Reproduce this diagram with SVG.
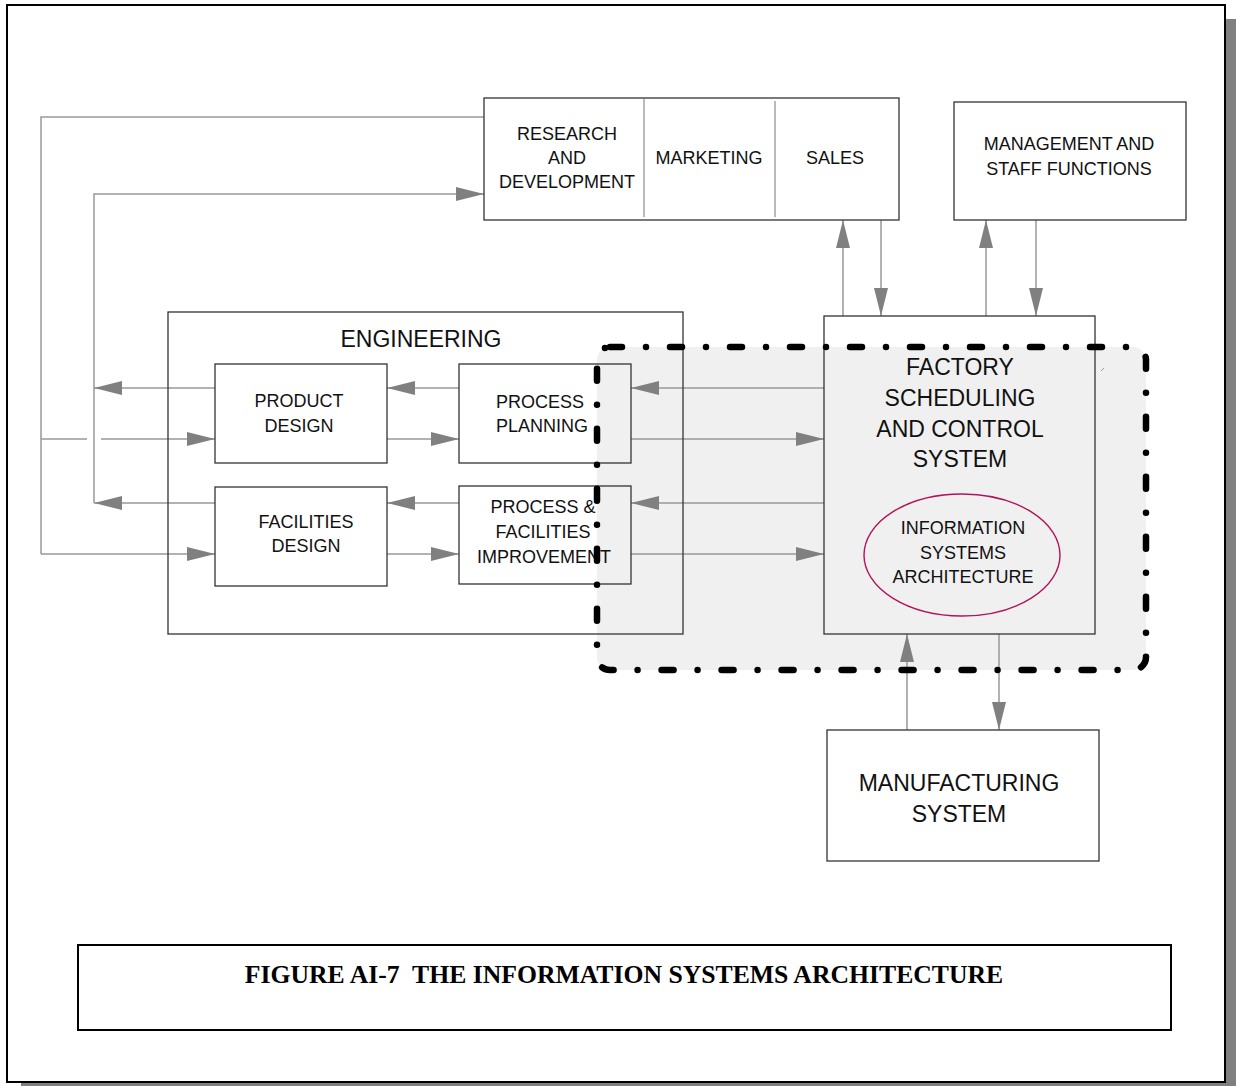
<svg xmlns="http://www.w3.org/2000/svg" width="1236" height="1086" viewBox="0 0 1236 1086">
  <style>
    .box { fill: none; stroke: #333; stroke-width: 1.3; }
    .div { fill: none; stroke: #777; stroke-width: 1; }
    .lbl { font-family: "Liberation Sans", Arial, sans-serif; font-size: 18px; fill: #111; text-anchor: middle; }
    .big { font-family: "Liberation Sans", Arial, sans-serif; font-size: 23px; fill: #111; text-anchor: middle; }
    .cap { font-family: "Liberation Serif", "Times New Roman", serif; font-size: 25.7px; font-weight: bold; fill: #000; text-anchor: middle; }
    .wire { fill: none; stroke: #999; stroke-width: 1.5; }
    .arr { fill: none; stroke: #999; stroke-width: 1.5; marker-end: url(#head); }
  </style>
  <defs>
    <marker id="head" markerUnits="userSpaceOnUse" markerWidth="28" markerHeight="14" refX="28" refY="7" orient="auto">
      <path d="M0,0 L28,7 L0,14 Z" fill="#808080"/>
    </marker>
  </defs>

  <!-- page frame with drop shadow -->
  <rect x="1226" y="19" width="10" height="1067" fill="#808080"/>
  <rect x="21" y="1083" width="1215" height="3" fill="#808080"/>
  <rect x="7" y="5" width="1218" height="1077" fill="#fff" stroke="#000" stroke-width="2"/>

  <!-- shaded zone behind the scheduling system -->
  <rect x="597" y="347" width="549" height="323" rx="13" fill="#f0f0f0"/>

  <!-- connectors -->
  <g id="connectors">
    <!-- outer feedback loop: R&D to product / facilities design -->
    <polyline class="wire" points="484,117 41,117 41,554"/>
    <line class="arr" x1="41" y1="554" x2="215" y2="554"/>
    <line class="wire" x1="41" y1="439" x2="87" y2="439"/>
    <line class="arr" x1="101" y1="439" x2="215" y2="439"/>
    <!-- inner loop: design back to R&D -->
    <polyline class="arr" points="94,503 94,194 484,194"/>
    <line class="arr" x1="215" y1="388" x2="94" y2="388"/>
    <line class="arr" x1="215" y1="503" x2="94" y2="503"/>
    <!-- between design and planning -->
    <line class="arr" x1="459" y1="388" x2="387" y2="388"/>
    <line class="arr" x1="387" y1="439" x2="459" y2="439"/>
    <line class="arr" x1="459" y1="503" x2="387" y2="503"/>
    <line class="arr" x1="387" y1="554" x2="459" y2="554"/>
    <!-- between planning and factory scheduling -->
    <line class="arr" x1="824" y1="388" x2="631" y2="388"/>
    <line class="arr" x1="631" y1="439" x2="824" y2="439"/>
    <line class="arr" x1="824" y1="503" x2="631" y2="503"/>
    <line class="arr" x1="631" y1="554" x2="824" y2="554"/>
    <!-- sales and management -->
    <line class="arr" x1="843" y1="316" x2="843" y2="220"/>
    <line class="arr" x1="881" y1="220" x2="881" y2="316"/>
    <line class="arr" x1="986" y1="316" x2="986" y2="220"/>
    <line class="arr" x1="1036" y1="220" x2="1036" y2="316"/>
    <!-- manufacturing -->
    <line class="arr" x1="907" y1="730" x2="907" y2="634"/>
    <line class="arr" x1="999" y1="634" x2="999" y2="730"/>
  </g>

  <!-- business functions -->
  <g id="business">
    <rect class="box" x="484" y="98" width="415" height="122"/>
    <line class="div" x1="644" y1="99" x2="644" y2="217"/>
    <line class="div" x1="775" y1="101" x2="775" y2="217"/>
    <text class="lbl" x="567" y="140">RESEARCH</text>
    <text class="lbl" x="567" y="164">AND</text>
    <text class="lbl" x="567" y="188">DEVELOPMENT</text>
    <text class="lbl" x="709" y="164">MARKETING</text>
    <text class="lbl" x="835" y="164">SALES</text>
  </g>

  <g id="management">
    <rect class="box" x="954" y="102" width="232" height="118"/>
    <text class="lbl" x="1069" y="150">MANAGEMENT AND</text>
    <text class="lbl" x="1069" y="175">STAFF FUNCTIONS</text>
  </g>

  <g id="engineering">
    <rect class="box" x="168" y="312" width="515" height="322"/>
    <text class="big" x="421" y="347">ENGINEERING</text>
  </g>

  <g id="product-design">
    <rect class="box" x="215" y="364" width="172" height="99"/>
    <text class="lbl" x="299" y="407">PRODUCT</text>
    <text class="lbl" x="299" y="432">DESIGN</text>
  </g>

  <g id="process-planning">
    <rect class="box" x="459" y="364" width="172" height="99"/>
    <text class="lbl" x="540" y="408">PROCESS</text>
    <text class="lbl" x="542" y="432">PLANNING</text>
  </g>

  <g id="facilities-design">
    <rect class="box" x="215" y="487" width="172" height="99"/>
    <text class="lbl" x="306" y="528">FACILITIES</text>
    <text class="lbl" x="306" y="552">DESIGN</text>
  </g>

  <g id="process-improvement">
    <rect class="box" x="459" y="486" width="172" height="98"/>
    <text class="lbl" x="543" y="513">PROCESS &amp;</text>
    <text class="lbl" x="543" y="538">FACILITIES</text>
    <text class="lbl" x="544" y="563">IMPROVEMENT</text>
  </g>

  <g id="factory-scheduling">
    <rect class="box" x="824" y="316" width="271" height="318"/>
    <text class="big" x="960" y="375">FACTORY</text>
    <text class="big" x="960" y="406">SCHEDULING</text>
    <text class="big" x="960" y="437">AND CONTROL</text>
    <text class="big" x="960" y="467">SYSTEM</text>
    <line x1="1101" y1="371" x2="1104" y2="368" stroke="#999" stroke-width="1"/>
  </g>

  <g id="is-architecture">
    <ellipse cx="962" cy="555" rx="98" ry="61" fill="none" stroke="#b0145c" stroke-width="1.4"/>
    <text class="lbl" x="963" y="534">INFORMATION</text>
    <text class="lbl" x="963" y="559">SYSTEMS</text>
    <text class="lbl" x="963" y="583">ARCHITECTURE</text>
  </g>

  <g id="manufacturing">
    <rect class="box" x="827" y="730" width="272" height="131"/>
    <text class="big" x="959" y="791">MANUFACTURING</text>
    <text class="big" x="959" y="822">SYSTEM</text>
  </g>

  <!-- dash-dot boundary of the information systems scope -->
  <rect x="597" y="347" width="549" height="323" rx="13" fill="none" stroke="#000" stroke-width="6.5" stroke-linecap="round" stroke-dasharray="12 24 0 24"/>

  <!-- caption -->
  <g id="caption">
    <rect x="78" y="945" width="1093" height="85" fill="none" stroke="#000" stroke-width="2"/>
    <text class="cap" x="624" y="983" xml:space="preserve">FIGURE AI-7  THE INFORMATION SYSTEMS ARCHITECTURE</text>
  </g>
</svg>
